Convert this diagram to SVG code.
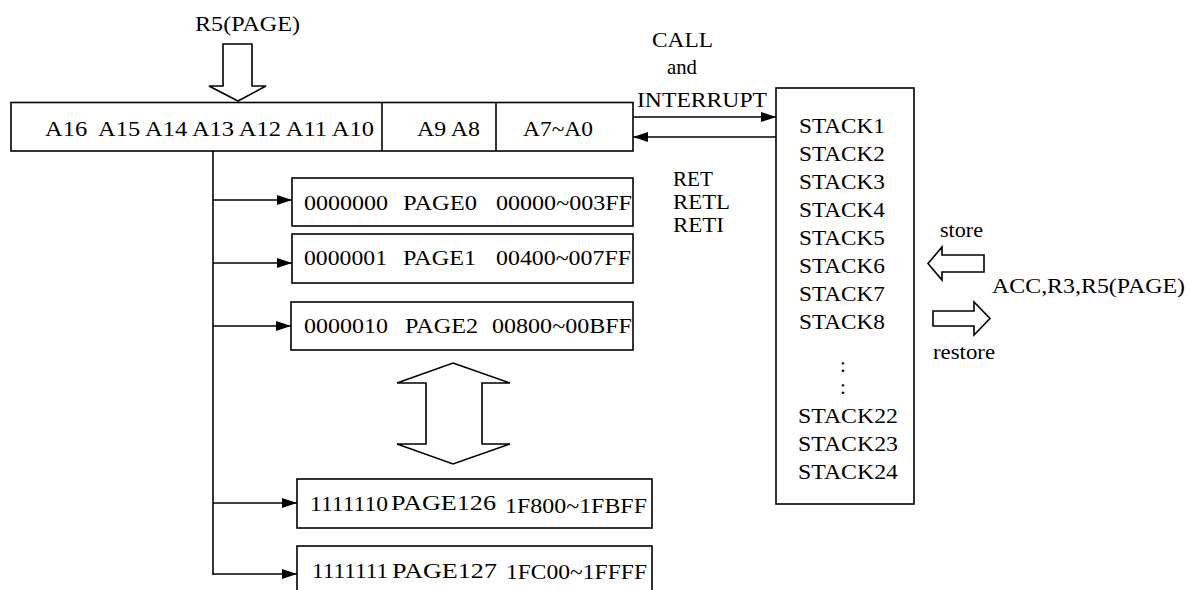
<svg xmlns="http://www.w3.org/2000/svg" width="1189" height="590" viewBox="0 0 1189 590">
<style>
text{font-family:"Liberation Serif","Times New Roman",serif;font-size:21px;fill:#000}
.small{font-size:20px}
.box{fill:#fff;stroke:#000;stroke-width:1.6}
.line{fill:none;stroke:#000;stroke-width:1.6}
.hollow{fill:#fff;stroke:#000;stroke-width:1.6;stroke-linejoin:miter}
</style>
<defs>
<marker id="ah" markerWidth="15" markerHeight="10" refX="15" refY="5" orient="auto" markerUnits="userSpaceOnUse">
<path d="M0,0 L15,5 L0,10 Z" fill="#000"/>
</marker>
</defs>
<rect width="1189" height="590" fill="#fff"/>

<g id="r5-label">
<text x="195" y="31" textLength="105" lengthAdjust="spacingAndGlyphs">R5(PAGE)</text>
<polygon class="hollow" points="223,44 252,44 252,86 266,86 238,101 209,86 223,86"/>
</g>

<g id="address-register">
<rect class="box" x="11" y="102.5" width="622" height="48.5"/>
<line class="line" x1="382" y1="102.5" x2="382" y2="151"/>
<line class="line" x1="496" y1="102.5" x2="496" y2="151"/>
<text x="45" y="136" textLength="329" lengthAdjust="spacingAndGlyphs" xml:space="preserve">A16  A15 A14 A13 A12 A11 A10</text>
<text x="417" y="136" textLength="63" lengthAdjust="spacingAndGlyphs">A9 A8</text>
<text x="523" y="136" textLength="70" lengthAdjust="spacingAndGlyphs">A7~A0</text>
</g>

<g id="page0">
<rect class="box" x="292" y="178" width="341" height="48"/>
<text x="304" y="210" textLength="84" lengthAdjust="spacingAndGlyphs">0000000</text>
<text x="403" y="210" textLength="74" lengthAdjust="spacingAndGlyphs">PAGE0</text>
<text x="496" y="210" textLength="136" lengthAdjust="spacingAndGlyphs">00000~003FF</text>
</g>
<g id="page1">
<rect class="box" x="292" y="234" width="341" height="49"/>
<text x="304" y="265" textLength="83" lengthAdjust="spacingAndGlyphs">0000001</text>
<text x="403" y="265" textLength="73" lengthAdjust="spacingAndGlyphs">PAGE1</text>
<text x="496" y="265" textLength="135" lengthAdjust="spacingAndGlyphs">00400~007FF</text>
</g>
<g id="page2">
<rect class="box" x="291" y="302" width="342" height="48"/>
<text x="304" y="333" textLength="84" lengthAdjust="spacingAndGlyphs">0000010</text>
<text x="405" y="333" textLength="73" lengthAdjust="spacingAndGlyphs">PAGE2</text>
<text x="492" y="333" textLength="140" lengthAdjust="spacingAndGlyphs">00800~00BFF</text>
</g>
<g id="ellipsis-arrow">
<polygon class="hollow" points="453,363 510,383 482,383 482,444 510,444 453,464 397,444 426,444 426,383 397,383"/>
</g>
<g id="page126">
<rect class="box" x="297" y="479" width="355" height="49"/>
<text x="310" y="511" textLength="78" lengthAdjust="spacingAndGlyphs">1111110</text>
<text x="391" y="510" textLength="105" lengthAdjust="spacingAndGlyphs">PAGE126</text>
<text x="505" y="513" textLength="142" lengthAdjust="spacingAndGlyphs">1F800~1FBFF</text>
</g>
<g id="page127">
<rect class="box" x="297" y="546" width="355" height="49"/>
<text x="312" y="578" textLength="76" lengthAdjust="spacingAndGlyphs">1111111</text>
<text x="392" y="578" textLength="105" lengthAdjust="spacingAndGlyphs">PAGE127</text>
<text x="506" y="579" textLength="141" lengthAdjust="spacingAndGlyphs">1FC00~1FFFF</text>
</g>

<g id="stack">
<rect class="box" x="776" y="88" width="138" height="416"/>
<text x="799" y="133" textLength="86" lengthAdjust="spacingAndGlyphs">STACK1</text>
<text x="799" y="161" textLength="86" lengthAdjust="spacingAndGlyphs">STACK2</text>
<text x="799" y="189" textLength="86" lengthAdjust="spacingAndGlyphs">STACK3</text>
<text x="799" y="217" textLength="86" lengthAdjust="spacingAndGlyphs">STACK4</text>
<text x="799" y="245" textLength="86" lengthAdjust="spacingAndGlyphs">STACK5</text>
<text x="799" y="273" textLength="86" lengthAdjust="spacingAndGlyphs">STACK6</text>
<text x="799" y="301" textLength="86" lengthAdjust="spacingAndGlyphs">STACK7</text>
<text x="799" y="329" textLength="86" lengthAdjust="spacingAndGlyphs">STACK8</text>
<text x="843" y="372" text-anchor="middle">:</text>
<text x="843" y="394" text-anchor="middle">:</text>
<text x="798" y="423" textLength="100" lengthAdjust="spacingAndGlyphs">STACK22</text>
<text x="798" y="451" textLength="100" lengthAdjust="spacingAndGlyphs">STACK23</text>
<text x="798" y="479" textLength="100" lengthAdjust="spacingAndGlyphs">STACK24</text>
</g>

<g id="call-label">
<text x="652" y="47" textLength="61" lengthAdjust="spacingAndGlyphs">CALL</text>
<text x="667" y="74" textLength="30" lengthAdjust="spacingAndGlyphs">and</text>
<text x="637" y="107" textLength="130" lengthAdjust="spacingAndGlyphs">INTERRUPT</text>
</g>
<g id="ret-label">
<text class="small" x="673" y="186" textLength="40" lengthAdjust="spacingAndGlyphs">RET</text>
<text class="small" x="673" y="209" textLength="57" lengthAdjust="spacingAndGlyphs">RETL</text>
<text class="small" x="673" y="232" textLength="51" lengthAdjust="spacingAndGlyphs">RETI</text>
</g>

<g id="registers">
<text x="940" y="237" textLength="43" lengthAdjust="spacingAndGlyphs">store</text>
<polygon class="hollow" points="928,263.5 942,247 942,255 984,255 984,272 942,272 942,280"/>
<text x="992" y="293" textLength="193" lengthAdjust="spacingAndGlyphs">ACC,R3,R5(PAGE)</text>
<polygon class="hollow" points="933,311 974,311 974,302 990,318.5 974,335 974,326 933,326"/>
<text x="933" y="359" textLength="62" lengthAdjust="spacingAndGlyphs">restore</text>
</g>

<g id="connectors">
<line class="line" x1="213" y1="151" x2="213" y2="575"/>
<line class="line" x1="213" y1="200" x2="292" y2="200" marker-end="url(#ah)"/>
<line class="line" x1="213" y1="263" x2="292" y2="263" marker-end="url(#ah)"/>
<line class="line" x1="213" y1="326" x2="291" y2="326" marker-end="url(#ah)"/>
<line class="line" x1="213" y1="503" x2="297" y2="503" marker-end="url(#ah)"/>
<line class="line" x1="213" y1="574" x2="297" y2="574" marker-end="url(#ah)"/>
<line class="line" x1="633" y1="117" x2="776" y2="117" marker-end="url(#ah)"/>
<line class="line" x1="776" y1="137" x2="633" y2="137" marker-end="url(#ah)"/>
</g>
</svg>
